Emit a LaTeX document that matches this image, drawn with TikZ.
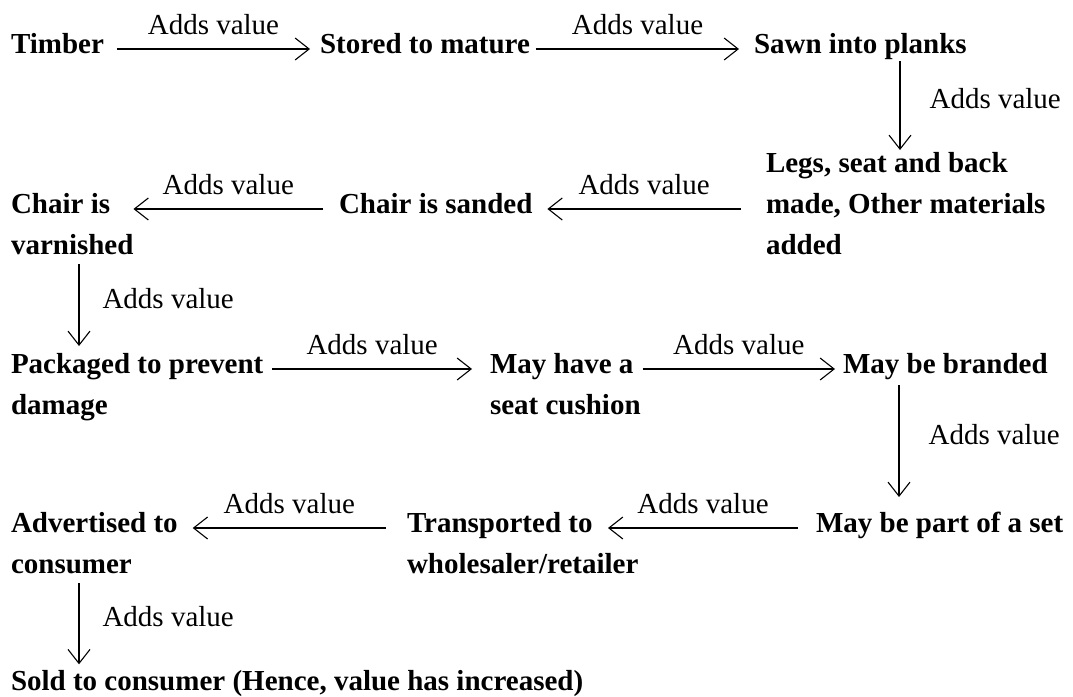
\documentclass[tikz,border=0pt]{standalone}
\usepackage{fontspec}
\setmainfont{Liberation Serif}
\usetikzlibrary{arrows.meta,calc}
\begin{document}
\begin{tikzpicture}[x=1pt,y=-1pt,
  stage/.style={anchor=north west, inner sep=0pt, outer sep=0pt, yshift=28.7pt, align=left,
    font=\fontsize{29}{41}\selectfont\bfseries},
  lbl/.style={inner sep=0pt, font=\fontsize{29}{41}\selectfont},
  arr/.style={line width=1.1pt, -{Straight Barb[length=14pt,width=22pt]}},
  hlab/.style={midway, anchor=base, yshift=15pt, lbl},
  vlab/.style={midway, anchor=base west, yshift=-3pt, lbl}]
\useasboundingbox (0,0) rectangle (1073,696);

\node[stage] (timber) at (11,53) {\strut Timber};
\node[stage] (stored) at (320,53) {\strut Stored to mature};
\node[stage] (sawn) at (754,53) {\strut Sawn into planks};
\node[stage] (legs) at (766,172) {\strut Legs, seat and back\\made, Other materials\\added};
\node[stage] (sanded) at (339,213) {\strut Chair is sanded};
\node[stage] (varnished) at (11,213) {\strut Chair is\\varnished};
\node[stage] (packaged) at (11,373) {\strut Packaged to prevent\\damage};
\node[stage] (cushion) at (490,373) {\strut May have a\\seat cushion};
\node[stage] (branded) at (843,373) {\strut May be branded};
\node[stage] (set) at (816,532) {\strut May be part of a set};
\node[stage] (transported) at (407,532) {\strut Transported to\\wholesaler/retailer};
\node[stage] (advertised) at (11,532) {\strut Advertised to\\consumer};
\node[stage] (sold) at (11,690) {\strut Sold to consumer (Hence, value has increased)};

\draw[arr] ($(timber.north east)+(13,24.7)$) -- node[hlab]{Adds value} ($(stored.north west)+(-10,24.7)$);
\draw[arr] ($(stored.north east)+(6,24.7)$) -- node[hlab]{Adds value} ($(sawn.north west)+(-15,24.7)$);
\draw[arr] ($(sawn.north west)+(146,36.7)$) -- node[vlab, xshift=29pt]{Adds value} ($(sawn.north west |- legs.north)+(146,6.7)$);
\draw[arr] ($(legs.west |- sanded.north)+(-25,24.7)$) -- node[hlab]{Adds value} ($(sanded.north east)+(15,24.7)$);
\draw[arr] ($(sanded.north west)+(-16,24.7)$) -- node[hlab]{Adds value} ($(varnished.north east)+(0,24.7)$);
\draw[arr] ($(varnished.north west)+(68,79.7)$) -- node[vlab, xshift=23pt]{Adds value} ($(varnished.west |- packaged.north)+(68,1.7)$);
\draw[arr] ($(packaged.north east)+(9,24.7)$) -- node[hlab]{Adds value} ($(cushion.north west)+(-18,24.7)$);
\draw[arr] ($(cushion.north east)+(2,24.7)$) -- node[hlab]{Adds value} ($(branded.north west)+(-8,24.7)$);
\draw[arr] ($(branded.north west)+(56,40.7)$) -- node[vlab, xshift=29pt]{Adds value} ($(branded.west |- set.north)+(56,-6.3)$);
\draw[arr] ($(set.north west)+(-18,24.7)$) -- node[hlab]{Adds value} ($(transported.north west)+(201,24.7)$);
\draw[arr] ($(transported.north west)+(-21,24.7)$) -- node[hlab]{Adds value} ($(advertised.north east)+(15,24.7)$);
\draw[arr] ($(advertised.north west)+(68,79.7)$) -- node[vlab, xshift=23pt]{Adds value} ($(advertised.west |- sold.north)+(68,3)$);
\end{tikzpicture}
\end{document}
